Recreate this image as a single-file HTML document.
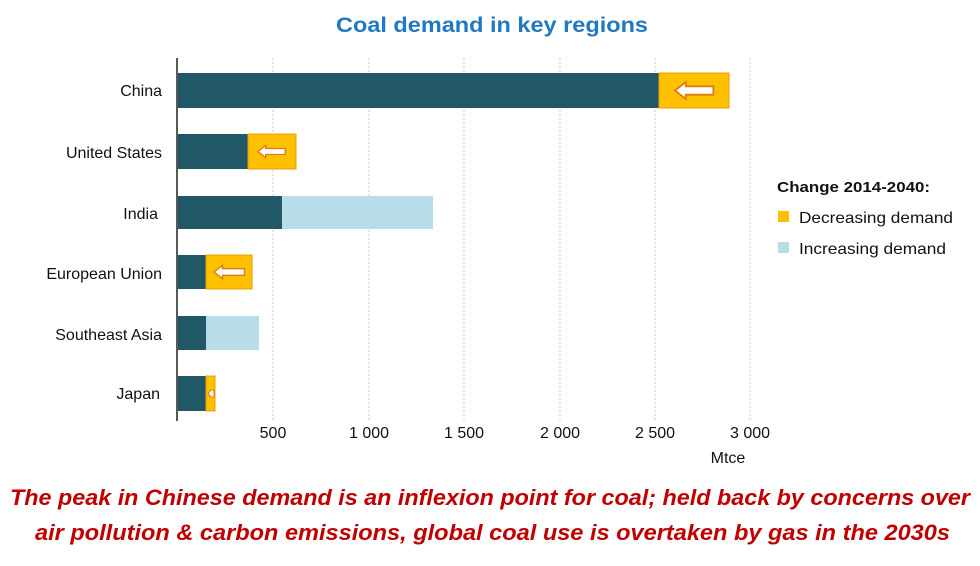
<!DOCTYPE html>
<html><head><style>
body{margin:0;background:#fff;}
svg{display:block;font-family:"Liberation Sans",sans-serif;}
</style></head><body>
<svg width="980" height="566" viewBox="0 0 980 566">
<text x="336" y="32" textLength="312" lengthAdjust="spacingAndGlyphs" font-size="21" font-weight="bold" fill="#1f78c1">Coal demand in key regions</text>
<g stroke="#c8c8c8" stroke-dasharray="2,2" stroke-width="1">
<line x1="273" y1="58" x2="273" y2="421"/><line x1="369" y1="58" x2="369" y2="421"/>
<line x1="464" y1="58" x2="464" y2="421"/><line x1="560" y1="58" x2="560" y2="421"/>
<line x1="655" y1="58" x2="655" y2="421"/><line x1="750" y1="58" x2="750" y2="421"/>
</g>
<defs>
<g id="arr"><polygon points="0,0 9,-7 9,-3.5 32,-3.5 32,3.5 9,3.5 9,7" fill="#fff" stroke="#e07b10" stroke-width="1.5"/></g>
</defs>
<rect x="178" y="73" width="481" height="35" fill="#215868"/>
<rect x="659" y="73" width="70" height="35" fill="#ffc000" stroke="#e8a000"/>
<use href="#arr" transform="translate(675,90.5) scale(1.2)"/>
<rect x="178" y="134" width="70" height="35" fill="#215868"/>
<rect x="248" y="134" width="48" height="35" fill="#ffc000" stroke="#e8a000"/>
<use href="#arr" transform="translate(258,151.5) scale(0.85)"/>
<rect x="178" y="196" width="104" height="33" fill="#215868"/>
<rect x="282" y="196" width="151" height="33" fill="#b7dee8"/>
<rect x="178" y="255" width="28" height="34" fill="#215868"/>
<rect x="206" y="255" width="46" height="34" fill="#ffc000" stroke="#e8a000"/>
<use href="#arr" transform="translate(214,272) scale(0.95)"/>
<rect x="178" y="316" width="28" height="34" fill="#215868"/>
<rect x="206" y="316" width="53" height="34" fill="#b7dee8"/>
<rect x="178" y="376" width="28" height="35" fill="#215868"/>
<rect x="206" y="376" width="9" height="35" fill="#ffc000" stroke="#e8a000"/>
<polygon points="208,393.5 211,390 214,390 214,397 211,397" fill="#fff" stroke="#e07b10"/>
<line x1="177" y1="58" x2="177" y2="421" stroke="#222" stroke-width="1.5"/>
<g font-size="16" fill="#111" text-anchor="end">
<text x="162" y="96">China</text><text x="162" y="158">United States</text>
<text x="158" y="219">India</text><text x="162" y="279">European Union</text>
<text x="162" y="340">Southeast Asia</text><text x="160" y="399">Japan</text>
</g>
<g font-size="16" fill="#111" text-anchor="middle">
<text x="273" y="438">500</text><text x="369" y="438">1 000</text><text x="464" y="438">1 500</text>
<text x="560" y="438">2 000</text><text x="655" y="438">2 500</text><text x="750" y="438">3 000</text>
<text x="728" y="463">Mtce</text>
</g>
<text x="777" y="192" textLength="153" lengthAdjust="spacingAndGlyphs" font-size="15" font-weight="bold" fill="#111">Change 2014-2040:</text>
<rect x="778" y="211" width="11" height="11" fill="#ffc000"/>
<text x="799" y="223" textLength="154" lengthAdjust="spacingAndGlyphs" font-size="16" fill="#111">Decreasing demand</text>
<rect x="778" y="242" width="11" height="11" fill="#b7dee8"/>
<text x="799" y="254" textLength="147" lengthAdjust="spacingAndGlyphs" font-size="16" fill="#111">Increasing demand</text>
<g font-size="22" font-weight="bold" font-style="italic" fill="#c00000">
<text x="10" y="505" textLength="960" lengthAdjust="spacingAndGlyphs">The peak in Chinese demand is an inflexion point for coal; held back by concerns over</text>
<text x="35" y="540" textLength="915" lengthAdjust="spacingAndGlyphs">air pollution &amp; carbon emissions, global coal use is overtaken by gas in the 2030s</text>
</g>
</svg>
</body></html>
